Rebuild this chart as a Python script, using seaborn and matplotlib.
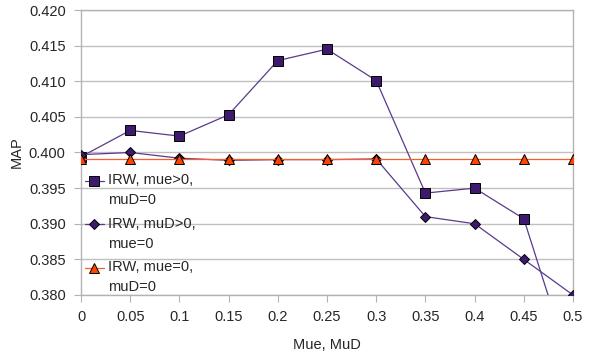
import pandas as pd
import numpy as np
import matplotlib.pyplot as plt
import seaborn as sns
from matplotlib.legend_handler import HandlerLine2D
from matplotlib.lines import Line2D

# --- data ---
mu = [0, 0.05, 0.1, 0.15, 0.2, 0.25, 0.3, 0.35, 0.4, 0.45, 0.5]
irw_mue = [0.3994, 0.4031, 0.4023, 0.4053, 0.4129, 0.4145, 0.4101, 0.3943, 0.3950, 0.3907, 0.3690]
irw_mud = [0.3997, 0.4000, 0.3992, 0.3989, 0.3990, 0.3990, 0.3991, 0.3910, 0.3900, 0.3850, 0.3800]
irw_base = [0.3991] * 11

labels = ['IRW, mue>0,\nmuD=0', 'IRW, muD>0,\nmue=0', 'IRW, mue=0,\nmuD=0']
xticks = [0, 0.05, 0.1, 0.15, 0.2, 0.25, 0.3, 0.35, 0.4, 0.45, 0.5]
xtick_labels = ['0', '0.05', '0.1', '0.15', '0.2', '0.25', '0.3', '0.35', '0.4', '0.45', '0.5']
yticks = [0.380, 0.385, 0.390, 0.395, 0.400, 0.405, 0.410, 0.415, 0.420]

df = pd.DataFrame({
    'mu': mu * 3,
    'MAP': irw_mue + irw_mud + irw_base,
    'series': [labels[0]] * 11 + [labels[1]] * 11 + [labels[2]] * 11,
})


# legend marker sits next to the first text line, not the middle of the label
class FirstLineHandler(HandlerLine2D):
    def create_artists(self, legend, orig_handle, xdescent, ydescent, width, height, fontsize, trans):
        arts = super().create_artists(legend, orig_handle, xdescent, ydescent, width, height, fontsize, trans)
        for a in arts:
            a.set_ydata(np.asarray(a.get_ydata()) + 0.68 * fontsize)
        return arts


sns.set_style("white")
plt.rcParams['font.family'] = ['Liberation Sans', 'DejaVu Sans']

fig = plt.figure(figsize=(5.9, 3.58), dpi=100)
ax = fig.add_axes([81 / 590, 63 / 358, 492 / 590, 285 / 358])

palette = {labels[0]: '#5b3a8c', labels[1]: '#5b3a8c', labels[2]: '#ff5a2a'}
face = {labels[0]: '#3d1a6e', labels[1]: '#3d1a6e', labels[2]: '#ff4400'}
markers = {labels[0]: 's', labels[1]: 'D', labels[2]: '^'}
sizes = {labels[0]: 7, labels[1]: 5, labels[2]: 7}

for lab in labels:
    sub = df[df['series'] == lab]
    sns.lineplot(data=sub, x='mu', y='MAP', ax=ax, color=palette[lab], linewidth=0.9,
                 marker=markers[lab], markersize=sizes[lab], markerfacecolor=face[lab],
                 markeredgecolor='black', markeredgewidth=0.7, label=lab, zorder=3)

ax.set_xlim(0, 0.5)
ax.set_ylim(0.380, 0.420)
ax.set_xticks(xticks)
ax.set_xticklabels(xtick_labels)
ax.set_yticks(yticks)
ax.set_yticklabels([f'{v:.3f}' for v in yticks])
ax.grid(axis='y', color='#c0c0c0', linewidth=1)
ax.set_axisbelow(True)
for spine in ax.spines.values():
    spine.set_visible(True)
    spine.set_edgecolor('#b3b3b3')
    spine.set_linewidth(1)
ax.tick_params(axis='both', which='both', direction='out', length=5, color='#b3b3b3',
               labelsize=10.5, pad=6, left=True, bottom=True)

ax.set_xlabel('Mue, MuD', fontsize=10.5, labelpad=10)
ax.set_ylabel('MAP', fontsize=10.5, labelpad=4)

leg = ax.legend(loc='upper left', bbox_to_anchor=(0.008, 0.428), frameon=False, fontsize=10.5,
                handlelength=1.3, handletextpad=0.3, labelspacing=0.65, borderaxespad=0,
                borderpad=0, handler_map={Line2D: FirstLineHandler()})
for t in leg.get_texts():
    t.set_linespacing(1.55)

fig.savefig('out.png', dpi=100)
